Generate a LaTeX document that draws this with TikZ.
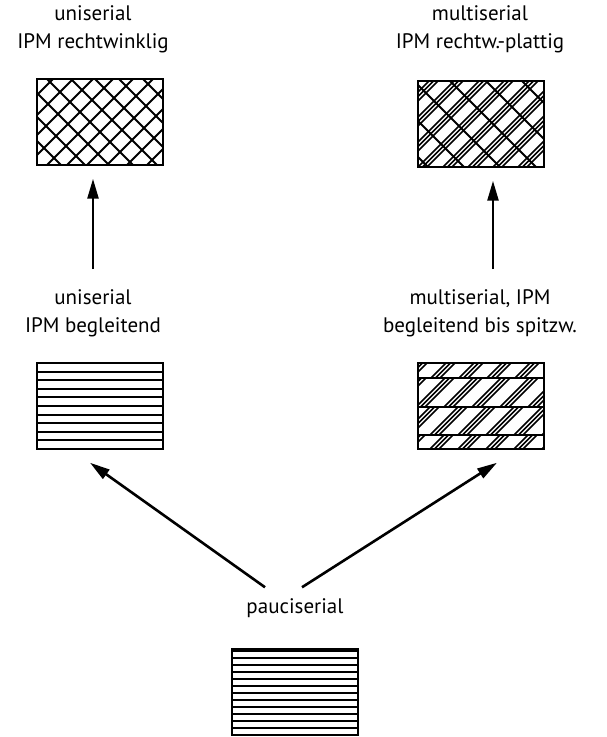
\documentclass[tikz,border=0pt]{standalone}
\usepackage{fontspec}
\setmainfont{PT Sans}
\usetikzlibrary{arrows.meta,calc,positioning}
\tikzset{
  box/.style={draw, line width=1.5pt, minimum width=126pt, minimum height=86pt, inner sep=0pt},
  lbl/.style={align=center, inner sep=1pt, font=\fontsize{21}{28}\selectfont},
  arr/.style={line width=2.6pt, -{Triangle[length=20pt,width=11pt]}},
  % kreuzschraffur, rechtwinklig
  crossfill/.style={path picture={
    \coordinate (sw) at (path picture bounding box.south west);
    \begin{scope}[line width=1.8pt]
      \foreach \i in {-90,-70,...,130} \draw ($(sw)+(\i,0)$) -- ++(95,95);
      \foreach \i in {0,24,...,230} \draw ($(sw)+(\i,0)$) -- ++(-95,95);
    \end{scope}}},
  % plattig: dreifache linien nach rechts oben
  plattfill/.style={path picture={
    \coordinate (sw) at (path picture bounding box.south west);
    \begin{scope}[line width=1.5pt]
      \foreach \i in {-100,-75,...,130}
        \foreach \d in {0,4.5,9} \draw ($(sw)+(\i+\d,0)$) -- ++(95,95);
      \foreach \i in {10,46,...,230} \draw[line width=1.8pt] ($(sw)+(\i,0)$) -- ++(-95,95);
    \end{scope}}},
  % begleitend: waagrechte linien
  hfill/.style={path picture={
    \coordinate (sw) at (path picture bounding box.south west);
    \foreach \y in {8.6,17.2,...,80} \draw[line width=2pt] ($(sw)+(0,\y)$) -- ++(130,0);
    }},
  % pauciserial: dichte linien
  paucifill/.style={path picture={
    \coordinate (sw) at (path picture bounding box.south west);
    \foreach \y in {7,21,...,84} \draw[line width=2.4pt] ($(sw)+(0,\y)$) -- ++(130,0);
    \foreach \y in {14,28,...,84} \draw[line width=1.3pt] ($(sw)+(0,\y)$) -- ++(130,0);
    }},
  % multiserial begleitend bis spitzw.
  bandfill/.style={path picture={
    \coordinate (sw) at (path picture bounding box.south west);
    \foreach \ya/\yb/\s in {0/14/0, 14/42/14, 42/71/0, 71/86/14}{
      \begin{scope}
        \clip ($(sw)+(0,\ya)$) rectangle ++(130,\yb-\ya);
        \foreach \i in {-100,-72,...,130}
          \foreach \d in {0,4.5,9} \draw[line width=1.5pt] ($(sw)+(\i+\d+\s,0)$) -- ++(95,95);
      \end{scope}
      \draw[line width=1.6pt] ($(sw)+(0,\yb)$) -- ++(130,0);
    }}},
}

\begin{document}
\begin{tikzpicture}[x=1pt,y=1pt]
  \useasboundingbox (0,0) rectangle (606,737);

  % kaestchen
  \node[box, crossfill] (boxTL) at (100,615) {};
  \node[box, plattfill] (boxTR) at (481,613) {};
  \node[box, hfill] (boxML) at (100,331) {};
  \node[box, bandfill] (boxMR) at (481,331) {};
  \node[box, paucifill] (boxP) at (295,45) {};

  % beschriftung
  \node[lbl] (lblTL) at (93,708) {uniserial\\IPM rechtwinklig};
  \node[lbl] (lblTR) at (480,708) {multiserial\\IPM rechtw.-plattig};
  \node[lbl] (lblML) at (93,424) {uniserial\\IPM begleitend};
  \node[lbl] (lblMR) at (480,424) {multiserial, IPM\\begleitend bis spitzw.};
  \node[lbl] (lblP) at (295,129) {pauciserial};

  % pfeile
  \draw[arr, shorten <=19pt, shorten >=13pt] (lblML.north) -- (lblML.north |- boxTL.south);
  \draw[arr, shorten <=19pt, shorten >=13pt] ([xshift=13pt]lblMR.north) -- ([xshift=13pt]lblMR.north |- boxTR.south);
  \draw[arr] ([xshift=-30pt,yshift=10pt]lblP.north) -- ([xshift=-10pt,yshift=-13pt]boxML.south);
  \draw[arr] ([xshift=7pt,yshift=10pt]lblP.north) -- ([xshift=16pt,yshift=-13pt]boxMR.south);
\end{tikzpicture}
\end{document}
